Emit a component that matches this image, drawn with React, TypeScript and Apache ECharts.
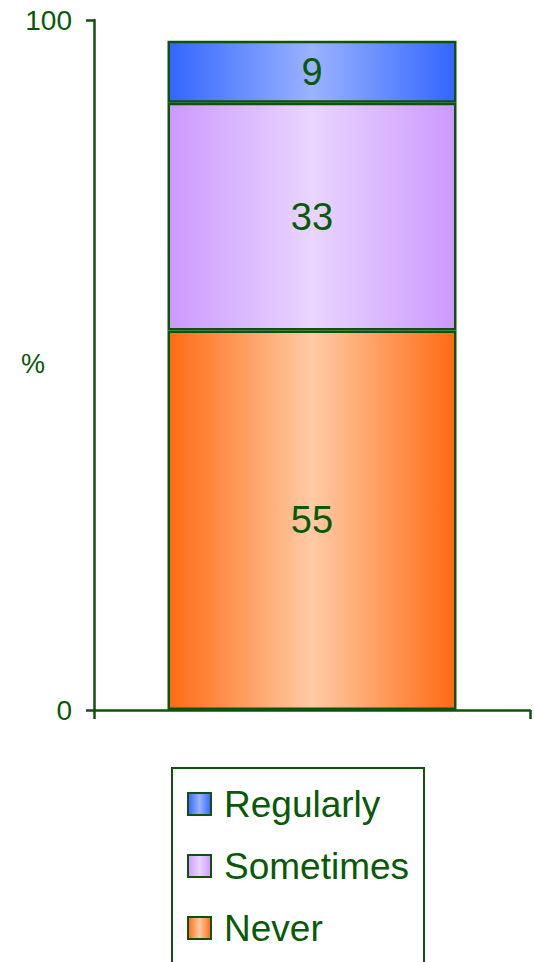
import React, { useEffect, useRef } from "react";
import * as echarts from "echarts";

const categories = [""];
const seriesNames = ["Never", "Sometimes", "Regularly"];
const neverValues = [55];
const sometimesValues = [33];
const regularlyValues = [9];
const yTicks = { min: 0, max: 100, interval: 100 };
const legendOrder = ["Regularly", "Sometimes", "Never"];

const GREEN = "#085a08";
const LINE = "#0e520e";
const FONT = "Liberation Sans, Arial, sans-serif";

function grad(edge: string, mid: string) {
  return new echarts.graphic.LinearGradient(0, 0, 1, 0, [
    { offset: 0, color: edge },
    { offset: 0.5, color: mid },
    { offset: 1, color: edge },
  ]);
}

export default function App() {
  const ref = useRef<HTMLDivElement>(null);
  useEffect(() => {
    if (!ref.current) return;
    const chart = echarts.init(ref.current, undefined, { renderer: "svg" });
    const colors = [
      grad("#ff6a12", "#ffcba5"),
      grad("#cc99ff", "#e9d5ff"),
      grad("#3366ff", "#9ab2ff"),
    ];
    const values = [neverValues, sometimesValues, regularlyValues];
    chart.setOption({
      animation: false,
      grid: { left: 94, right: 4, top: 20, bottom: 252 },
      xAxis: {
        type: "category",
        data: categories,
        boundaryGap: true,
        axisLine: { lineStyle: { color: LINE, width: 2.5 } },
        axisTick: { show: true, length: 9, lineStyle: { color: LINE, width: 2.5 } },
        axisLabel: { show: false },
      },
      yAxis: {
        type: "value",
        min: yTicks.min,
        max: yTicks.max,
        interval: yTicks.interval,
        axisLine: { show: true, lineStyle: { color: LINE, width: 2.5 } },
        axisTick: { show: true, length: 8, lineStyle: { color: LINE, width: 2.5 } },
        axisLabel: { color: GREEN, fontSize: 28, fontFamily: FONT, margin: 22 },
        splitLine: { show: false },
      },
      legend: {
        data: legendOrder,
        orient: "vertical",
        left: 187,
        top: 783,
        padding: 0,
        itemWidth: 23,
        itemHeight: 22,
        itemGap: 20,
        icon: "rect",
        textStyle: {
          color: GREEN,
          fontSize: 37,
          fontFamily: FONT,
          lineHeight: 42,
          padding: [0, 0, 0, 8],
        },
      },
      graphic: [
        {
          type: "rect",
          shape: { x: 172, y: 768, width: 252, height: 200 },
          style: { fill: "none", stroke: LINE, lineWidth: 2 },
          silent: true,
        },
        {
          type: "text",
          x: 33,
          y: 364,
          style: {
            text: "%",
            fill: GREEN,
            fontSize: 27,
            fontFamily: FONT,
            textAlign: "center",
            textVerticalAlign: "middle",
          },
        },
      ],
      series: seriesNames.map((name, i) => ({
        name,
        type: "bar",
        stack: "total",
        data: values[i],
        barWidth: 289,
        itemStyle: { color: colors[i], borderColor: LINE, borderWidth: 2.5 },
        label: {
          show: true,
          position: "inside",
          color: GREEN,
          fontSize: 38,
          fontFamily: FONT,
        },
      })),
    });
    return () => chart.dispose();
  }, []);
  return <div ref={ref} style={{ width: 534, height: 962, position: "absolute", left: 0, top: 0 }} />;
}
